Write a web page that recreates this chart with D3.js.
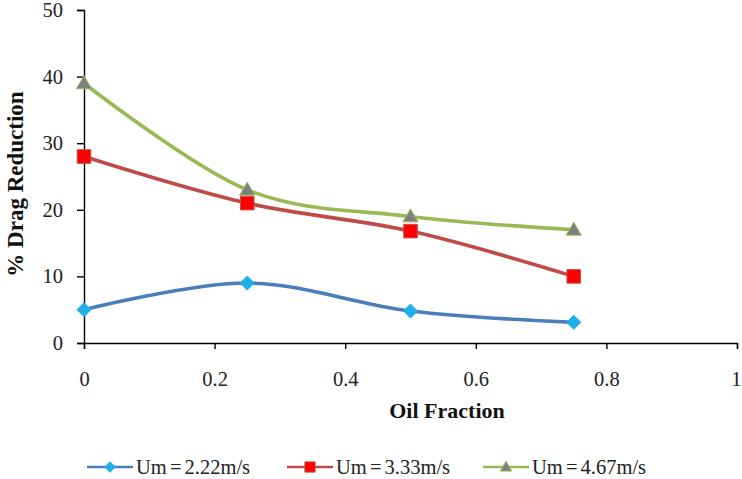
<!DOCTYPE html>
<html><head><meta charset="utf-8">
<script src="https://cdn.jsdelivr.net/npm/d3@7"></script>
<style>body{margin:0;background:#fff}svg{display:block}text{font-family:"Liberation Serif","Times New Roman",serif}</style>
</head><body>
<svg id="c" width="742" height="479"></svg>
<script>
const oilFraction = [0, 0.25, 0.5, 0.75];
const um222 = [5, 9, 4.8, 3.1];
const um333 = [28, 21, 16.8, 10];
const um467 = [39, 23, 19, 17];
const seriesNames = ["Um = 2.22m/s", "Um = 3.33m/s", "Um = 4.67m/s"];
const xTicks = [0, 0.2, 0.4, 0.6, 0.8, 1];
const yTicks = [0, 10, 20, 30, 40, 50];

const svg = d3.select("#c");
const m = {l:84, r:737, t:10, b:343};
const x = d3.scaleLinear().domain([0,1]).range([m.l, m.r]);
const y = d3.scaleLinear().domain([0,50]).range([m.b, m.t]);

const xAxis = svg.append("g").attr("transform",`translate(0,${m.b})`)
  .call(d3.axisBottom(x).tickValues(xTicks).tickFormat(d=>d).tickSizeOuter(0).tickSize(6).tickPadding(22));
const yAxis = svg.append("g").attr("transform",`translate(${m.l},0)`)
  .call(d3.axisLeft(y).tickValues(yTicks).tickSizeOuter(0).tickSize(7).tickPadding(14));
[xAxis,yAxis].forEach(a=>{
  a.selectAll("path,line").attr("stroke","#000").attr("stroke-width",1.4);
  a.selectAll("text").attr("font-size",20.5).attr("fill","#222").style("font-family","Liberation Serif");
});
xAxis.selectAll(".tick text").filter(d=>d===1).attr("text-anchor","end").attr("dx",4);

svg.append("text").attr("x",447).attr("y",418).attr("text-anchor","middle")
  .attr("font-size",22).attr("font-weight","bold").attr("fill","#111").text("Oil Fraction");
svg.append("text").attr("transform","translate(23,184) rotate(-90)").attr("text-anchor","middle")
  .attr("font-size",23).attr("font-weight","bold").attr("fill","#111").text("% Drag Reduction");

const series = [
  {name:seriesNames[0], vals:um222, line:"#4A7EBB", fill:"#1EB0E8", stroke:"#1EB0E8", shape:"diamond"},
  {name:seriesNames[1], vals:um333, line:"#BE4B48", fill:"#FF0000", stroke:"#C0504D", shape:"square"},
  {name:seriesNames[2], vals:um467, line:"#98B954", fill:"#808080", stroke:"#98B954", shape:"triangle"}
];
const line = d3.line().x((d,i)=>x(oilFraction[i])).y(d=>y(d)).curve(d3.curveCatmullRom.alpha(0));
function marker(shape, r){
  if(shape==="diamond") return `M0,${-r}L${r},0L0,${r}L${-r},0Z`;
  if(shape==="square") return `M${-r},${-r}H${r}V${r}H${-r}Z`;
  return `M0,${-r*1.05}L${r*1.05},${r*0.75}L${-r*1.05},${r*0.75}Z`;
}
const rad = {diamond:7, square:6.8, triangle:7.2};

series.forEach(s=>{
  svg.append("path").attr("d",line(s.vals)).attr("fill","none").attr("stroke",s.line).attr("stroke-width",3.6);
  svg.selectAll(null).data(s.vals).enter().append("path")
    .attr("d",marker(s.shape, rad[s.shape]))
    .attr("transform",(d,i)=>`translate(${x(oilFraction[i])},${y(d)})`)
    .attr("fill",s.fill).attr("stroke",s.stroke).attr("stroke-width",1);
});

const legX = [87, 287, 483];
series.forEach((s,i)=>{
  const g = svg.append("g").attr("transform",`translate(${legX[i]},467)`);
  g.append("line").attr("x1",0).attr("x2",46).attr("stroke",s.line).attr("stroke-width",2.5);
  g.append("path").attr("d",marker(s.shape, rad[s.shape]*0.75)).attr("transform","translate(23,0)")
    .attr("fill",s.fill).attr("stroke",s.stroke).attr("stroke-width",1);
  g.append("text").attr("x",49).attr("y",6.5).attr("font-size",20.5).attr("fill","#222").attr("word-spacing",-2).text(s.name);
});
</script>
</body></html>
